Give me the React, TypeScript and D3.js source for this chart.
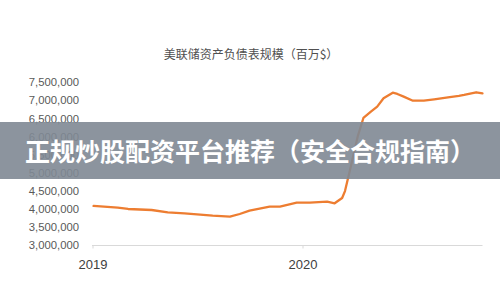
import React from "react";
import * as d3 from "d3";

const dates: string[] = [
  "2019-01-02", "2019-02-13", "2019-03-03", "2019-04-13", "2019-05-11", "2019-06-09",
  "2019-07-28", "2019-08-27", "2019-09-13", "2019-09-30", "2019-11-04", "2019-11-22",
  "2019-12-21", "2020-01-13", "2020-02-12", "2020-02-25", "2020-03-09", "2020-03-14",
  "2020-03-24", "2020-04-05", "2020-04-15", "2020-04-28", "2020-05-09", "2020-05-20",
  "2020-06-05", "2020-06-13", "2020-06-24", "2020-07-10", "2020-07-29", "2020-08-16",
  "2020-09-09", "2020-09-28", "2020-10-07", "2020-10-28", "2020-11-08",
];
const values: number[] = [
  4090000, 4042000, 4007000, 3979000, 3916000, 3888000,
  3822000, 3794000, 3869000, 3960000, 4070000, 4070000,
  4180000, 4180000, 4208000, 4164000, 4310000, 4500000,
  5173000, 6000000, 6516000, 6690000, 6828000, 7060000,
  7214000, 7178000, 7104000, 6993000, 6993000, 7032000,
  7087000, 7123000, 7150000, 7225000, 7197000,
];
const yTicks: number[] = [3000000, 3500000, 4000000, 4500000, 5000000, 5500000, 6000000, 6500000, 7000000, 7500000];
const xTickDates: string[] = ["2019-01-01", "2020-01-01"];
const xTickLabels: string[] = ["2019", "2020"];
const axisEnd = "2020-11-08";
const title = "美联储资产负债表规模（百万$）";
const banner = "正规炒股配资平台推荐（安全合规指南）";

const parse = (s: string) => new Date(s + "T00:00:00");

export default function App() {
  const W = 500, H = 300;
  const x = d3.scaleTime().domain([parse("2019-01-01"), parse("2020-01-01")]).range([93, 303]);
  const y = d3.scaleLinear().domain([3000000, 7500000]).range([245.5, 82.3]);
  const pts: [number, number][] = dates.map((d, i) => [x(parse(d)), y(values[i])]);
  const line = d3.line<[number, number]>().x(d => d[0]).y(d => d[1]);
  const fmt = d3.format(",");
  const x0 = 92, x1 = x(parse(axisEnd));
  return (
    <svg width={W} height={H} style={{ position: "absolute", left: 0, top: 0, background: "#fff" }}>
      <rect x={0} y={0} width={W} height={H} fill="#fff" />
      <text x={251} y={58.5} textAnchor="middle" fontFamily="Noto Sans CJK SC" fontSize={12} fill="#505050">{title}</text>
      {yTicks.map(t => (
        <text key={t} x={79} y={y(t)} dy="0.35em" textAnchor="end" fontFamily="Liberation Sans" fontSize={11.3} fill="#595959">{fmt(t)}</text>
      ))}
      <line x1={x0} x2={x1} y1={y(3000000)} y2={y(3000000)} stroke="#d9d9d9" strokeWidth={1} />
      {xTickDates.map((d, i) => (
        <g key={d}>
          <line x1={x(parse(d))} x2={x(parse(d))} y1={y(3000000)} y2={y(3000000) + 3} stroke="#d9d9d9" />
          <text x={x(parse(d))} y={269} textAnchor="middle" fontFamily="Liberation Sans" fontSize={13} fill="#404040">{xTickLabels[i]}</text>
        </g>
      ))}
      <path d={line(pts) || ""} fill="none" stroke="#ED7D31" strokeWidth={2.3} strokeLinejoin="round" strokeLinecap="round" />
      <rect x={0} y={122} width={W} height={57} fill="#7f8893" opacity={0.9} />
      <text x={250} y={161} textAnchor="middle" fontFamily="Noto Sans CJK SC" fontWeight="bold" fontSize={25} fill="#fff">{banner}</text>
    </svg>
  );
}
